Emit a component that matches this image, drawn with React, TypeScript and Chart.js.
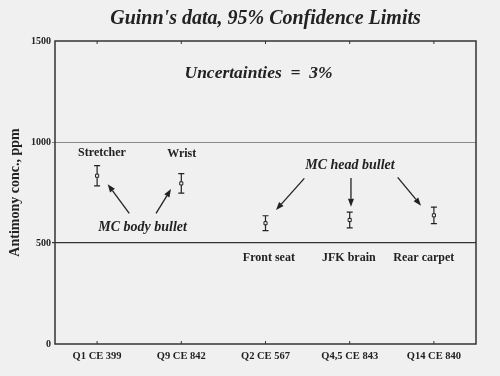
import React, { useEffect, useRef } from "react";
import { Chart, registerables } from "chart.js";

Chart.register(...registerables);

const categories = ["Q1 CE 399", "Q9 CE 842", "Q2 CE 567", "Q4,5 CE 843", "Q14 CE 840"];
const values = [833, 795, 598, 614, 637];
const errors = [50, 48, 37, 39, 41];
const yTickValues = [0, 500, 1000, 1500];

const titleText = "Guinn's data, 95% Confidence Limits";
const yAxisTitle = "Antimony conc., ppm";

const noteTexts = ["Uncertainties  =  3%", "Stretcher", "Wrist", "MC body bullet", "MC head bullet", "Front seat", "JFK brain", "Rear carpet"];
const noteX = [1.917, 0.058, 1.005, 0.54, 3.003, 2.04, 2.99, 3.88];
const noteY = [1337, 946, 942, 578, 882, 424, 424, 424];
const noteFonts = [
  "italic bold 17.5px 'Liberation Serif'",
  "bold 12px 'Liberation Serif'",
  "bold 12px 'Liberation Serif'",
  "italic bold 14px 'Liberation Serif'",
  "italic bold 14px 'Liberation Serif'",
  "bold 12px 'Liberation Serif'",
  "bold 12px 'Liberation Serif'",
  "bold 12px 'Liberation Serif'",
];

const arrowFromX = [0.382, 0.70, 2.461, 3.015, 3.570];
const arrowFromY = [647, 647, 820, 822, 825];
const arrowToX = [0.126, 0.878, 2.125, 3.015, 3.847];
const arrowToY = [791, 767, 663, 680, 685];

const INK = "#222";

const decorPlugin = {
  id: "decor",
  beforeDatasetsDraw(chart: any) {
    const { ctx } = chart;
    const xs = chart.scales.x;
    const ys = chart.scales.y;
    ctx.save();
    ctx.strokeStyle = INK;
    ctx.lineWidth = 1.2;
    values.forEach((v, i) => {
      const x = xs.getPixelForValue(i);
      const yHi = ys.getPixelForValue(v + errors[i]);
      const yLo = ys.getPixelForValue(v - errors[i]);
      ctx.beginPath();
      ctx.moveTo(x, yHi);
      ctx.lineTo(x, yLo);
      ctx.moveTo(x - 3, yHi);
      ctx.lineTo(x + 3, yHi);
      ctx.moveTo(x - 3, yLo);
      ctx.lineTo(x + 3, yLo);
      ctx.stroke();
    });
    ctx.restore();
  },
  afterDraw(chart: any) {
    const { ctx, chartArea } = chart;
    const xs = chart.scales.x;
    const ys = chart.scales.y;
    ctx.save();
    ctx.strokeStyle = "#333";
    ctx.lineWidth = 1.5;
    ctx.strokeRect(chartArea.left, chartArea.top, chartArea.right - chartArea.left, chartArea.bottom - chartArea.top);
    ctx.lineWidth = 1;
    categories.forEach((_, i) => {
      const x = xs.getPixelForValue(i);
      ctx.beginPath();
      ctx.moveTo(x, chartArea.top);
      ctx.lineTo(x, chartArea.top + 3);
      ctx.moveTo(x, chartArea.bottom);
      ctx.lineTo(x, chartArea.bottom - 3);
      ctx.stroke();
    });
    ctx.fillStyle = INK;
    ctx.textAlign = "center";
    ctx.textBaseline = "middle";
    ctx.font = "italic bold 20px 'Liberation Serif'";
    ctx.fillText(titleText, (chartArea.left + chartArea.right) / 2, 19);
    ctx.save();
    ctx.translate(15, (chartArea.top + chartArea.bottom) / 2);
    ctx.rotate(-Math.PI / 2);
    ctx.font = "bold 14px 'Liberation Serif'";
    ctx.fillText(yAxisTitle, 0, 0);
    ctx.restore();
    noteTexts.forEach((t, i) => {
      ctx.font = noteFonts[i];
      ctx.fillText(t, xs.getPixelForValue(noteX[i]), ys.getPixelForValue(noteY[i]));
    });
    ctx.strokeStyle = INK;
    ctx.lineWidth = 1.3;
    arrowFromX.forEach((_, i) => {
      const x1 = xs.getPixelForValue(arrowFromX[i]);
      const y1 = ys.getPixelForValue(arrowFromY[i]);
      const x2 = xs.getPixelForValue(arrowToX[i]);
      const y2 = ys.getPixelForValue(arrowToY[i]);
      const a = Math.atan2(y2 - y1, x2 - x1);
      const L = 8, W = 3;
      const bx = x2 - L * Math.cos(a);
      const by = y2 - L * Math.sin(a);
      ctx.beginPath();
      ctx.moveTo(x1, y1);
      ctx.lineTo(bx, by);
      ctx.stroke();
      ctx.beginPath();
      ctx.moveTo(x2, y2);
      ctx.lineTo(bx + W * Math.sin(a), by - W * Math.cos(a));
      ctx.lineTo(bx - W * Math.sin(a), by + W * Math.cos(a));
      ctx.closePath();
      ctx.fill();
    });
    ctx.restore();
  },
};

export default function App() {
  const ref = useRef<HTMLCanvasElement>(null);
  useEffect(() => {
    document.body.style.margin = "0";
    document.body.style.background = "#f0f0f0";
    const chart = new Chart(ref.current!, {
      type: "line",
      data: {
        labels: categories,
        datasets: [
          {
            data: values,
            showLine: false,
            pointStyle: "rect",
            pointRadius: 2.2,
            pointBackgroundColor: "#f0f0f0",
            pointBorderColor: INK,
            pointBorderWidth: 1,
          },
        ],
      },
      options: {
        animation: false,
        responsive: true,
        maintainAspectRatio: false,
        layout: { padding: { left: 0, top: 41, right: 24, bottom: 0 } },
        plugins: { legend: { display: false }, tooltip: { enabled: false }, title: { display: false } },
        scales: {
          x: {
            type: "category",
            offset: true,
            grid: { display: false, drawTicks: false },
            border: { display: false },
            ticks: {
              color: INK,
              padding: 6,
              maxRotation: 0,
              font: { family: "'Liberation Serif'", weight: "bold", size: 10.5 },
            },
            afterFit: (s: any) => { s.height = 32; },
          },
          y: {
            min: 0,
            max: 1500,
            afterBuildTicks: (s: any) => { s.ticks = yTickValues.map((v) => ({ value: v })); },
            border: { display: false },
            grid: {
              color: (c: any) => (c.tick && c.tick.value === 500 ? "#333" : c.tick && c.tick.value === 1000 ? "#8a8a8a" : "rgba(0,0,0,0)"),
              lineWidth: (c: any) => (c.tick && c.tick.value === 500 ? 1.2 : 1),
              tickLength: 3,
            },
            ticks: {
              color: INK,
              padding: 1,
              callback: (v: any) => String(v),
              font: { family: "'Liberation Serif'", weight: "bold", size: 10 },
            },
            afterFit: (s: any) => { s.width = 55; },
          },
        },
      },
      plugins: [decorPlugin],
    });
    return () => chart.destroy();
  }, []);
  return (
    <div style={{ position: "fixed", left: 0, top: 0, width: 500, height: 376, background: "#f0f0f0" }}>
      <canvas ref={ref} />
    </div>
  );
}
